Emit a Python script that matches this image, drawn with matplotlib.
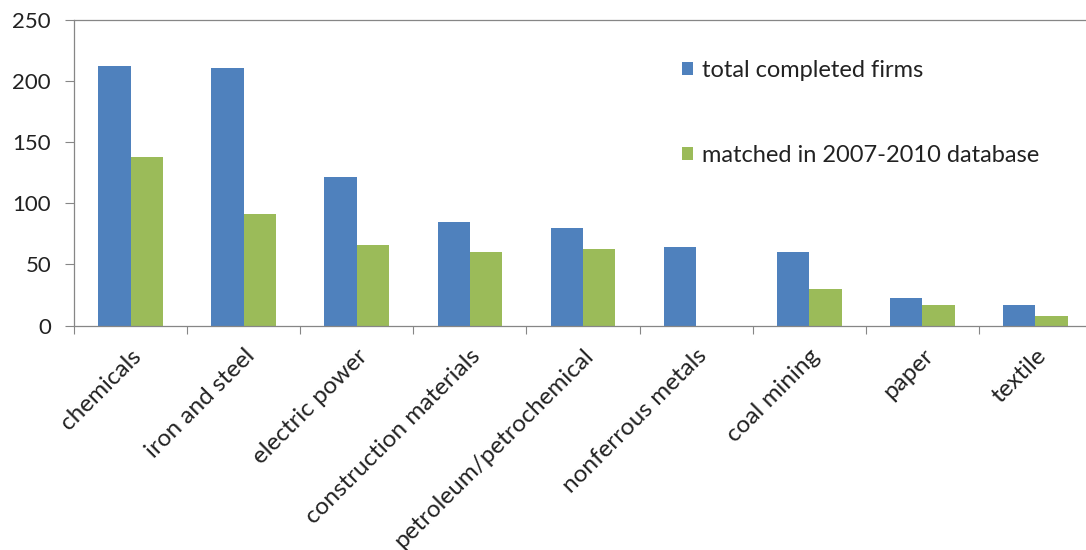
import matplotlib
matplotlib.use("Agg")
import matplotlib.pyplot as plt
import numpy as np
from matplotlib.patches import Patch

categories = ["chemicals", "iron and steel", "electric power", "construction materials",
              "petroleum/petrochemical", "nonferrous metals", "coal mining", "paper", "textile"]
total_completed = [212, 210, 121, 85, 80, 64, 60, 23, 17]
matched_db = [138, 91, 66, 60, 63, 0, 30, 17, 8]
series_labels = ["total completed firms", "matched in 2007-2010 database"]
y_ticks = [0, 50, 100, 150, 200, 250]

BLUE = "#4F81BD"
GREEN = "#9BBB59"
AXIS_GRAY = "#868686"
TEXT = "#222222"

plt.rcParams["font.family"] = ["Lato", "DejaVu Sans"]

W, H = 1086, 550
fig = plt.figure(figsize=(W / 100, H / 100), dpi=100)
left_px, right_px, top_px, bottom_px = 74, 1092, 19.5, 325.7
ax = fig.add_axes([left_px / W, 1 - bottom_px / H,
                   (right_px - left_px) / W, (bottom_px - top_px) / H])

x = np.arange(len(categories))
w = 1 / 3.5
ax.bar(x - w / 2, total_completed, width=w, color=BLUE, linewidth=0)
ax.bar(x + w / 2, matched_db, width=w, color=GREEN, linewidth=0)

ax.set_xlim(-0.5, len(categories) - 0.5)
ax.set_ylim(0, 250)
ax.set_yticks(y_ticks)
ax.tick_params(axis="y", direction="out", length=6.5, width=0.8, color=AXIS_GRAY,
               labelsize=16, labelcolor=TEXT, pad=10)

# category labels at group centres, separator ticks at group boundaries
ax.set_xticks(x)
ax.set_xticklabels(categories, rotation=45, ha="right", rotation_mode="anchor",
                   fontsize=17.5, color=TEXT)
ax.tick_params(axis="x", which="major", length=0, pad=14)
ax.set_xticks(np.arange(-0.5, len(categories), 1), minor=True)
ax.tick_params(axis="x", which="minor", direction="out", length=6, width=0.8,
               color=AXIS_GRAY)

for side in ["left", "bottom", "top"]:
    ax.spines[side].set_color(AXIS_GRAY)
    ax.spines[side].set_linewidth(0.9)
ax.spines["right"].set_visible(False)

handles = [Patch(facecolor=BLUE, edgecolor="none"), Patch(facecolor=GREEN, edgecolor="none")]
leg = ax.legend(handles, series_labels, loc="upper left",
                bbox_to_anchor=((682 - left_px) / (right_px - left_px),
                                (bottom_px - 60) / (bottom_px - top_px)),
                frameon=False, fontsize=17, handlelength=0.45, handleheight=0.45,
                handletextpad=0.4, labelspacing=2.7, borderaxespad=0, borderpad=0)
for t in leg.get_texts():
    t.set_color(TEXT)

fig.savefig("out.png", dpi=100)
